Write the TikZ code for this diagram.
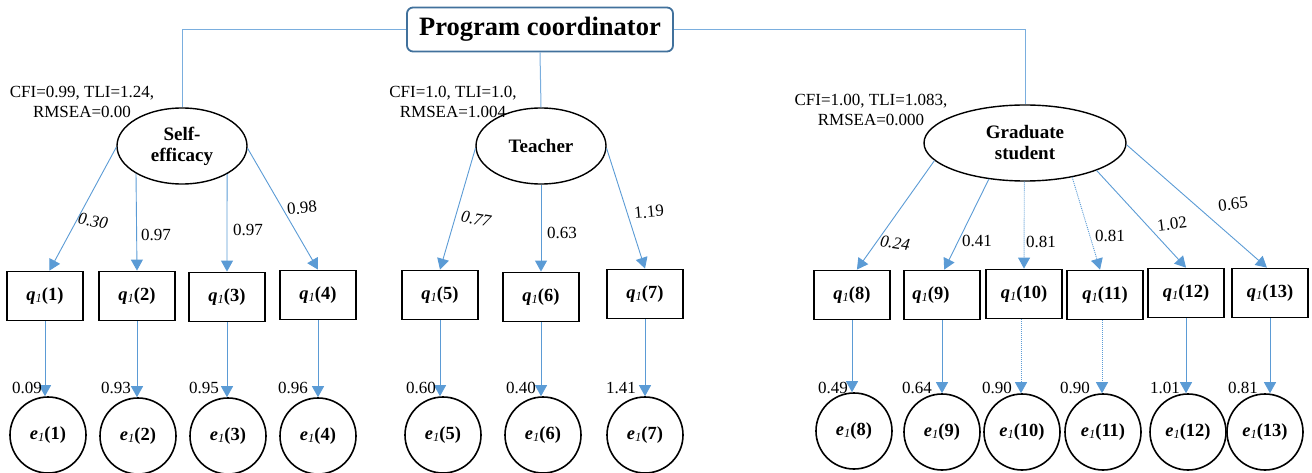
\documentclass[tikz,border=0pt]{standalone}
\usepackage{fontspec}
\setmainfont{Liberation Serif}
\usetikzlibrary{shapes.geometric,arrows.meta,calc}
\definecolor{linkblue}{HTML}{5B9BD5}
\definecolor{tieblue}{HTML}{7AAEDE}
\definecolor{boxblue}{HTML}{41719C}
% small italic index "1" used in the item and error labels
\newcommand\idxone{\raisebox{-0.12em}{\fontsize{12.5}{12.5}\selectfont\mdseries\itshape 1}}
\newcommand\qlab[1]{\textbf{\textit{q}\idxone(#1)}}
\newcommand\elab[1]{\textbf{\textit{e}\idxone(#1)}}
\begin{document}
\begin{tikzpicture}[x=1pt,y=-1pt,
  coordbox/.style={draw=boxblue, line width=1.8pt, rounded corners=6pt, fill=white,
    minimum width=266pt, minimum height=44pt, inner sep=0pt,
    font=\fontsize{26.5}{30}\selectfont\bfseries},
  factor/.style={ellipse, draw=black, line width=1.4pt, inner sep=0pt, align=center,
    minimum height=76pt, font=\fontsize{19}{21}\selectfont\bfseries},
  item/.style={rectangle, draw=black, line width=1.8pt, minimum width=76pt,
    minimum height=49pt, inner sep=0pt, font=\fontsize{18.5}{20}\selectfont},
  err/.style={circle, draw=black, line width=1.6pt, minimum size=76pt, inner sep=0pt,
    font=\fontsize{18.5}{20}\selectfont},
  tie/.style={draw=tieblue, line width=1pt},
  load/.style={draw=linkblue, line width=0.9pt, -{Triangle[length=11pt,width=12pt]}},
  weak/.style={dash pattern=on 1pt off 1pt},
  gof/.style={align=center, inner sep=0pt, font=\fontsize{17}{20}\selectfont},
  num/.style={inner sep=0pt, font=\fontsize{17}{20}\selectfont},
  inum/.style={num, font=\fontsize{17}{20}\selectfont\itshape},
]
\useasboundingbox (0,0) rectangle (1312,473);

% top-level node
\node[coordbox] (pc) at (540,29.5) {Program coordinator};

% latent factors
\node[factor, minimum width=130pt] (se) at (182,146) {Self-\\efficacy};
\node[factor, minimum width=130pt] (te) at (541,146) {Teacher};
\node[factor, minimum width=202pt] (gs) at (1025,143) {Graduate\\student};

% fit indices
\node[gof] (fse) at (82,102) {CFI=0.99, TLI=1.24,\\RMSEA=0.00};
\node[gof] (fte) at (453,102) {CFI=1.0, TLI=1.0,\\RMSEA=1.004};
\node[gof] (fgs) at (871,110) {CFI=1.00, TLI=1.083,\\RMSEA=0.000};

% observed items
\foreach \i/\x/\y in {1/45/296, 2/137/296, 3/227/297, 4/318/295, 5/440/295,
    6/541/297, 7/645/294, 8/852/295, 10/1024/294, 11/1105/295, 12/1186/293, 13/1270/293}
  \node[item] (q\i) at (\x,\y) {\qlab{\i}};
\node[item] (q9) at (942,295) {\qlab{9}\hspace*{22pt}};

% error terms
\foreach \i/\x/\y in {1/48/435, 2/138/436, 3/228/436, 4/318/436, 5/443/435,
    6/543/435, 7/645/435, 8/854/431, 9/942/432, 10/1022/432, 11/1103/432,
    12/1188/432, 13/1265/432}
  \node[err] (e\i) at (\x,\y) {\elab{\i}};

% links from the coordinator to the factors
\draw[tie] (pc.west) -| (se.north);
\draw[tie] (pc.south) -- (te.north);
\draw[tie] (pc.east) -| (gs.north);

% factor loadings
\draw[load] (se.181) -- (q1.80);
\draw[load] (se.211) -- (q2.north);
\draw[load] (se.328) -- (q3.north);
\draw[load] (se.358) -- (q4.north);
\draw[load] (te.182) -- (q5.north);
\draw[load] (te.south) -- (q6.north);
\draw[load] (te.358) -- (q7.north);
\draw[load] (gs.191) -- (q8.79);
\draw[load] (gs.225) -- (q9.85);
\draw[load,weak] (gs.269) -- (q10.north);
\draw[load,weak] (gs.324) -- (q11.101);
\draw[load] (gs.339) -- (q12.north);
\draw[load] (gs.359) -- (q13.97);

\node[inum, rotate=-10] (l1) at (93,221) {0.30};
\node[num] (l2) at (156,235) {0.97};
\node[num] (l3) at (248,230) {0.97};
\node[num, rotate=5] (l4) at (302,208) {0.98};
\node[inum, rotate=-10] (l5) at (476,219) {0.77};
\node[num] (l6) at (562,233) {0.63};
\node[num, rotate=5] (l7) at (649,212) {1.19};
\node[inum, rotate=-8] (l8) at (895,243) {0.24};
\node[num] (l9) at (977,241) {0.41};
\node[num] (l10) at (1041,242) {0.81};
\node[num] (l11) at (1110,236) {0.81};
\node[num, rotate=7] (l12) at (1172,224) {1.02};
\node[num, rotate=6] (l13) at (1233,204) {0.65};

% residual paths
\foreach \i in {1,...,9,12,13}
  \draw[load] (q\i.south) -- (q\i.south |- e\i.north);
\foreach \i in {10,11}
  \draw[load,weak] ([xshift=-3pt]q\i.south) -- ([xshift=-3pt]q\i.south |- e\i.north);

% residual variances
\foreach \i/\x/\v in {1/12/0.09, 2/101/0.93, 3/189/0.95, 4/278/0.96, 5/406/0.60,
    6/506/0.40, 7/606/1.41, 8/818/0.49, 9/902/0.64, 10/982/0.90, 11/1060/0.90,
    12/1150/1.01, 13/1228/0.81}
  \node[num, anchor=west] (r\i) at (\x,388) {\v};
\end{tikzpicture}
\end{document}
